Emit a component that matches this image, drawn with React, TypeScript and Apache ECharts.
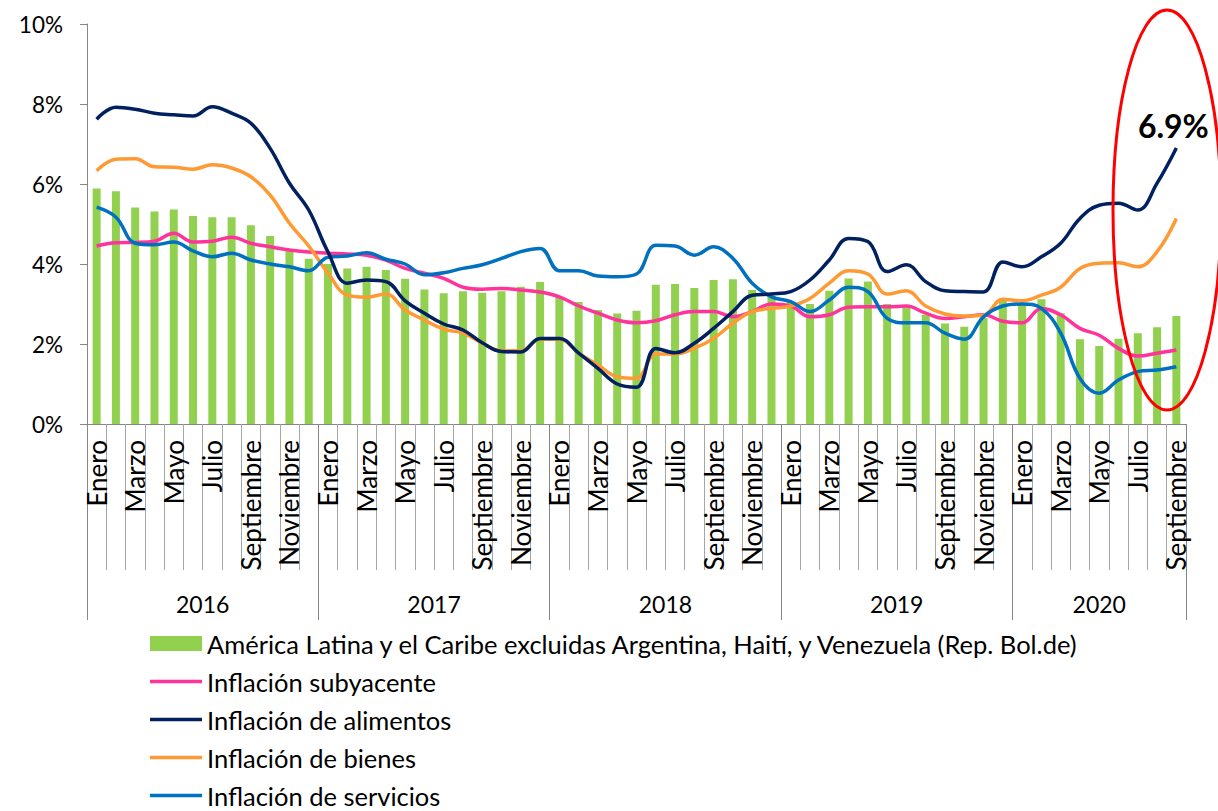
import React, { useEffect, useRef } from "react";
import * as echarts from "echarts";

const monthNames = [
  "Enero", "Febrero", "Marzo", "Abril", "Mayo", "Junio",
  "Julio", "Agosto", "Septiembre", "Octubre", "Noviembre", "Diciembre",
];
const years = ["2016", "2017", "2018", "2019", "2020"];
const monthsPerYear = [12, 12, 12, 12, 9];

const categories: string[] = [];
years.forEach((y, yi) => {
  for (let m = 0; m < monthsPerYear[yi]; m++) categories.push(monthNames[m]);
});

const latam = [
  5.89, 5.82, 5.41, 5.31, 5.36, 5.2, 5.17, 5.17, 4.97, 4.7, 4.33, 4.13,
  4.0, 3.89, 3.93, 3.85, 3.63, 3.36, 3.27, 3.32, 3.28, 3.32, 3.43, 3.55,
  3.17, 3.05, 2.85, 2.76, 2.83, 3.48, 3.5, 3.4, 3.6, 3.62, 3.35, 3.2,
  3.05, 3.0, 3.33, 3.64, 3.56, 3.0, 2.92, 2.73, 2.51, 2.43, 2.65, 3.1,
  3.0, 3.12, 2.77, 2.12, 1.95, 2.13, 2.27, 2.42, 2.7,
];
const subyacente = [
  4.45, 4.53, 4.54, 4.57, 4.77, 4.55, 4.57, 4.67, 4.52, 4.43, 4.35, 4.3,
  4.27, 4.25, 4.22, 4.1, 3.89, 3.77, 3.64, 3.42, 3.37, 3.39, 3.35, 3.3,
  3.18, 2.95, 2.77, 2.6, 2.53, 2.58, 2.73, 2.81, 2.81, 2.68, 2.81, 3.0,
  2.95, 2.68, 2.73, 2.92, 2.93, 2.93, 2.95, 2.77, 2.64, 2.68, 2.73, 2.57,
  2.53, 2.89, 2.73, 2.39, 2.22, 1.89, 1.7, 1.77, 1.85,
];
const alimentos = [
  7.62, 7.92, 7.87, 7.77, 7.73, 7.7, 7.93, 7.77, 7.52, 6.89, 6.02, 5.35,
  4.3, 3.52, 3.6, 3.56, 3.08, 2.77, 2.5, 2.35, 2.03, 1.81, 1.8, 2.14,
  2.14, 1.77, 1.39, 1.0, 0.92, 1.89, 1.78, 2.02, 2.39, 2.81, 3.22, 3.25,
  3.31, 3.6, 4.1, 4.64, 4.56, 3.81, 3.98, 3.56, 3.33, 3.31, 3.3, 4.05,
  3.93, 4.18, 4.52, 5.14, 5.47, 5.52, 5.35, 6.02, 6.9,
];
const bienes = [
  6.33, 6.62, 6.63, 6.43, 6.42, 6.37, 6.48, 6.4, 6.18, 5.72, 5.02, 4.45,
  3.77, 3.22, 3.17, 3.25, 2.85, 2.6, 2.37, 2.27, 2.02, 1.83, 1.83, 2.12,
  2.12, 1.77, 1.48, 1.18, 1.14, 1.75, 1.75, 1.89, 2.14, 2.52, 2.81, 2.89,
  2.95, 3.14, 3.52, 3.83, 3.75, 3.25, 3.33, 2.95, 2.75, 2.7, 2.72, 3.12,
  3.08, 3.22, 3.42, 3.89, 4.02, 4.03, 3.93, 4.31, 5.14,
];
const servicios = [
  5.42, 5.17, 4.52, 4.48, 4.55, 4.33, 4.18, 4.27, 4.1, 4.0, 3.93, 3.83,
  4.17, 4.2, 4.28, 4.12, 4.0, 3.73, 3.78, 3.89, 3.98, 4.14, 4.31, 4.39,
  3.83, 3.83, 3.7, 3.68, 3.75, 4.47, 4.45, 4.22, 4.43, 4.14, 3.52, 3.18,
  3.06, 2.81, 3.1, 3.42, 3.31, 2.64, 2.53, 2.53, 2.27, 2.12, 2.68, 2.95,
  3.0, 2.89, 2.27, 1.14, 0.77, 1.1, 1.31, 1.35, 1.43,
];

const yTicks = [0, 2, 4, 6, 8, 10];
const highlightLabel = "6.9%";

const FONT = "Lato";
const LINE_ICON = "path://M0,0 L52,0 L52,3.5 L0,3.5 Z";
const BAR_NAME = "América Latina y el Caribe excluidas Argentina, Haití, y Venezuela (Rep. Bol.de)";

export default function App() {
  const ref = useRef<HTMLDivElement>(null);

  useEffect(() => {
    document.body.style.margin = "0";
    if (!ref.current) return;
    const chart = echarts.init(ref.current, undefined, { renderer: "svg" });

    const total = categories.length;
    const yearBounds: number[] = [0];
    const yearCenters: number[] = [];
    let acc = 0;
    monthsPerYear.forEach((n) => {
      yearCenters.push(acc + n / 2);
      acc += n;
      yearBounds.push(acc);
    });

    const lineSeries = (name: string, data: number[], color: string, extra: any = {}) => ({
      name,
      type: "line",
      data,
      smooth: 0.4,
      symbol: "none",
      lineStyle: { color, width: 3.5 },
      itemStyle: { color },
      z: 3,
      ...extra,
    });

    const last = alimentos.length - 1;

    chart.setOption({
      animation: false,
      textStyle: { fontFamily: FONT },
      grid: { left: 87, right: 32, top: 24, bottom: 387, containLabel: false },
      legend: {
        orient: "vertical",
        left: 145,
        top: 624,
        height: 260,
        itemWidth: 52,
        itemHeight: 15,
        itemGap: 9,
        textStyle: { fontFamily: FONT, fontSize: 25.5, color: "#000", lineHeight: 29 },
        data: [
          { name: BAR_NAME, icon: "rect" },
          { name: "Inflación subyacente", icon: LINE_ICON },
          { name: "Inflación de alimentos", icon: LINE_ICON },
          { name: "Inflación de bienes", icon: LINE_ICON },
          { name: "Inflación de servicios", icon: LINE_ICON },
        ],
      },
      xAxis: [
        {
          type: "category",
          data: categories,
          boundaryGap: true,
          position: "bottom",
          axisLine: { lineStyle: { color: "#868686", width: 1 } },
          axisTick: { show: true, interval: 0, length: 146, lineStyle: { color: "#a6a6a6" } },
          axisLabel: {
            interval: 1,
            rotate: 90,
            margin: 16,
            fontSize: 26,
            fontFamily: FONT,
            color: "#000",
          },
          splitLine: { show: false },
        },
        {
          type: "value",
          min: 0,
          max: total,
          position: "bottom",
          axisLine: { show: false },
          splitLine: { show: false },
          axisTick: {
            show: true,
            length: 196,
            customValues: yearBounds,
            lineStyle: { color: "#868686" },
          },
          axisLabel: {
            show: true,
            customValues: yearCenters,
            margin: 168,
            fontSize: 23,
            fontFamily: FONT,
            color: "#000",
            formatter: (v: number) => {
              const idx = yearCenters.findIndex((c) => Math.abs(c - v) < 1e-6);
              return idx >= 0 ? years[idx] : "";
            },
          },
        },
      ],
      yAxis: {
        type: "value",
        min: 0,
        max: 10,
        interval: 2,
        axisLine: { show: true, lineStyle: { color: "#868686" } },
        axisTick: { show: true, length: 7, lineStyle: { color: "#868686" } },
        splitLine: { show: false },
        axisLabel: {
          formatter: (v: number) => (yTicks.includes(v) ? `${v}%` : ""),
          fontSize: 22.5,
          fontFamily: FONT,
          color: "#000",
          margin: 24,
        },
      },
      series: [
        {
          name: BAR_NAME,
          type: "bar",
          data: latam,
          barWidth: 8,
          itemStyle: { color: "#92D050" },
          z: 2,
        },
        lineSeries("Inflación subyacente", subyacente, "#FF3399"),
        lineSeries("Inflación de alimentos", alimentos, "#002060", {
          z: 4,
          markPoint: {
            symbol: "circle",
            symbolSize: 1,
            itemStyle: { color: "rgba(0,0,0,0)" },
            label: {
              show: true,
              position: "top",
              distance: 6,
              offset: [-3, 0],
              fontSize: 32,
              fontWeight: "bold",
              fontFamily: FONT,
              color: "#000",
              formatter: () => highlightLabel,
            },
            data: [{ coord: [last, alimentos[last]], value: alimentos[last] }],
          },
        }),
        lineSeries("Inflación de bienes", bienes, "#FF9933"),
        lineSeries("Inflación de servicios", servicios, "#0070C0"),
      ],
      graphic: [
        {
          type: "ellipse",
          shape: { cx: 1167, cy: 210, rx: 54, ry: 200 },
          style: { fill: "none", stroke: "#FF0000", lineWidth: 3 },
          z: 10,
        },
      ],
    });

    return () => chart.dispose();
  }, []);

  return <div ref={ref} style={{ width: 1218, height: 811, position: "absolute", left: 0, top: 0 }} />;
}
